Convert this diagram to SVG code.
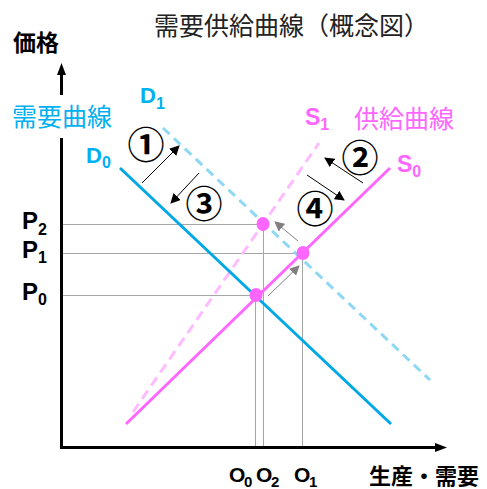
<svg xmlns="http://www.w3.org/2000/svg" width="487" height="489" viewBox="0 0 487 489">
<defs>
<style>
.jp{font-family:"Noto Sans CJK JP","Noto Sans",sans-serif;}
.lat{font-family:"Liberation Sans",Arial,sans-serif;font-weight:bold;}
.blue{fill:#00b0f0;}
.pink{fill:#ff66ff;}
.guide{stroke:#a6a6a6;stroke-width:1;fill:none;}
.arr{stroke:#000;stroke-width:1;fill:none;marker-end:url(#ah);}
.garr{stroke:#808080;stroke-width:1;fill:none;marker-end:url(#gh);}
.dot{fill:#ff66ff;}
.step{font-family:"Noto Sans CJK JP","Noto Sans",sans-serif;font-size:37px;font-weight:bold;fill:#000;text-anchor:middle;}
</style>
<marker id="ah" viewBox="0 0 10 10" refX="9" refY="5" markerWidth="10" markerHeight="10" markerUnits="userSpaceOnUse" orient="auto"><path d="M0,0 L10,5 L0,10 z" fill="#000"/></marker>
<marker id="gh" viewBox="0 0 10 10" refX="9" refY="5" markerWidth="10" markerHeight="10" markerUnits="userSpaceOnUse" orient="auto"><path d="M0,0 L10,5 L0,10 z" fill="#808080"/></marker>
</defs>
<rect width="487" height="489" fill="#fff"/>
<text class="jp" x="154" y="35" font-size="25" fill="#222">需要供給曲線（概念図）</text>
<g id="axes">
<line x1="61.5" y1="74" x2="61.5" y2="95" stroke="#000" stroke-width="3"/>
<line x1="61.5" y1="138" x2="61.5" y2="448" stroke="#000" stroke-width="3"/>
<polygon points="61.5,63 57,75 66,75" fill="#000"/>
<line x1="60" y1="447.5" x2="436" y2="447.5" stroke="#000" stroke-width="3"/>
<polygon points="447,447.5 435,443 435,452" fill="#000"/>
<text class="jp" x="13" y="51" font-size="23" font-weight="bold" fill="#000">価格</text>
<text class="jp" x="369" y="484" font-size="22" font-weight="bold" fill="#000" textLength="110" lengthAdjust="spacing">生産・需要</text>
</g>
<g id="guides">
<line class="guide" x1="63" y1="224.5" x2="263" y2="224.5"/>
<line class="guide" x1="63" y1="253.5" x2="303" y2="253.5"/>
<line class="guide" x1="63" y1="295.5" x2="256" y2="295.5"/>
<line class="guide" x1="255.5" y1="296" x2="255.5" y2="446"/>
<line class="guide" x1="263.5" y1="224" x2="263.5" y2="446"/>
<line class="guide" x1="302.5" y1="253" x2="302.5" y2="446"/>
</g>
<g id="D1">
<line x1="163" y1="128" x2="430" y2="380" stroke="#8ed8f5" stroke-width="3" stroke-dasharray="9,6"/>
<text class="lat blue" x="140" y="103" font-size="22">D<tspan font-size="16" dy="6">1</tspan></text>
</g>
<g id="S1">
<line x1="133" y1="412" x2="319" y2="143" stroke="#ffbbff" stroke-width="3" stroke-dasharray="10,6"/>
<text class="lat pink" x="305" y="125" font-size="23">S<tspan font-size="16" dy="5">1</tspan></text>
</g>
<g id="D0">
<line x1="120" y1="168" x2="391" y2="424" stroke="#00a8e6" stroke-width="3"/>
<text class="lat blue" x="86" y="163" font-size="22">D<tspan font-size="16" dy="5">0</tspan></text>
<text class="jp blue" x="12" y="126" font-size="25">需要曲線</text>
</g>
<g id="S0">
<line x1="126" y1="424" x2="390" y2="168" stroke="#ff66ff" stroke-width="3"/>
<text class="lat pink" x="397" y="172" font-size="23">S<tspan font-size="16" dy="5">0</tspan></text>
<text class="jp pink" x="354" y="128" font-size="25">供給曲線</text>
</g>
<g id="connectors">
<line class="arr" x1="142" y1="183" x2="179" y2="146"/>
<line class="arr" x1="199" y1="173" x2="171" y2="203"/>
<line class="arr" x1="363" y1="183" x2="325" y2="158"/>
<line class="arr" x1="307" y1="175" x2="344" y2="200"/>
<line class="garr" x1="298" y1="241" x2="275" y2="222"/>
<line class="garr" x1="268" y1="296" x2="299" y2="266"/>
</g>
<g id="points">
<ellipse class="dot" cx="256" cy="295" rx="6.5" ry="7"/>
<ellipse class="dot" cx="303" cy="253" rx="6.5" ry="7"/>
<ellipse class="dot" cx="263" cy="224" rx="6.5" ry="7"/>
</g>
<g id="steps">
<text class="step" x="146" y="159">①</text>
<text class="step" x="360" y="172">②</text>
<text class="step" x="204" y="218">③</text>
<text class="step" x="315" y="223">④</text>
</g>
<g id="labels">
<text class="lat" x="22" y="229" font-size="24">P<tspan font-size="16" dy="6">2</tspan></text>
<text class="lat" x="22" y="258" font-size="24">P<tspan font-size="16" dy="5">1</tspan></text>
<text class="lat" x="22" y="300" font-size="24">P<tspan font-size="16" dy="5">0</tspan></text>
<text class="lat" x="229" y="482" font-size="21">O<tspan x="244" font-size="15" dy="5">0</tspan><tspan x="256" dy="-5">O</tspan><tspan x="271" font-size="15" dy="5">2</tspan><tspan x="294" dy="-5">O</tspan><tspan x="309" font-size="15" dy="5">1</tspan></text>
</g>
</svg>
